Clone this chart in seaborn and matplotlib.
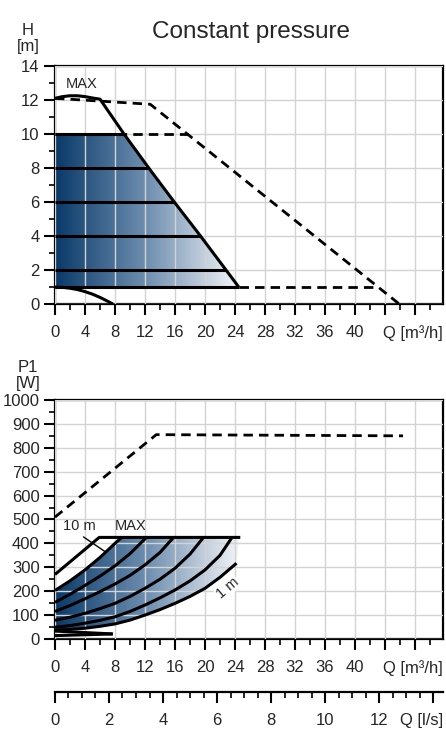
import numpy as np
import matplotlib
matplotlib.use("Agg")
import matplotlib.pyplot as plt
import seaborn as sns
from matplotlib.colors import LinearSegmentedColormap
from matplotlib.patches import Polygon
from matplotlib.ticker import MultipleLocator, FixedLocator, FixedFormatter

# ---- head chart, H [m] over Q [m3/h]
q_max_head = [0, 1, 2, 3, 4, 5, 6, 9.2, 12.5, 15.9, 19.4, 22.8, 24.5]
h_max_head = [12.1, 12.2, 12.25, 12.25, 12.2, 12.12, 12.05, 10, 8, 6, 4, 2, 1.0]
head_levels = [10, 8, 6, 4, 2, 1]
head_level_ends = [9.2, 12.5, 15.9, 19.4, 22.8, 24.5]
q_dash_head = [0, 12.7, 45.9]
h_dash_head = [12.1, 11.75, 0]
q_dash_10m = [0, 17.7]
h_dash_10m = [10, 10]
q_dash_1m = [24.5, 42.9]
h_dash_1m = [1, 1]
q_low_head = [0, 1, 2, 3, 4, 5, 6, 7, 7.7]
h_low_head = [1.0, 0.98, 0.93, 0.85, 0.73, 0.58, 0.39, 0.17, 0.0]

# ---- power chart, P1 [W] over Q [m3/h]
q_dash_p1 = [0, 13.5, 46.4]
p_dash_p1 = [510, 855, 850]
q_max_p1 = [0, 5.9, 24.7]
p_max_p1 = [270, 425, 425]
power_curves = {
    "10 m": ([0, 2, 4, 6, 8, 8.9], [203, 243, 289, 341, 400, 425]),
    "8 m": ([0, 2, 4, 6, 8, 10, 12.2], [153, 187, 224, 263, 306, 357, 425]),
    "6 m": ([0, 2, 4, 6, 8, 10, 12, 14, 15.8], [115, 140, 168, 198, 230, 266, 310, 362, 425]),
    "4 m": ([0, 2, 4, 6, 8, 10, 12, 14, 16, 18, 19.8],
            [78, 91, 107, 127, 149, 178, 212, 250, 296, 355, 425]),
    "2 m": ([0, 2, 4, 6, 8, 10, 12, 14, 16, 18, 20, 22, 23.6],
            [49, 56, 66, 78, 93, 115, 142, 172, 205, 243, 289, 350, 425]),
    "1 m": ([0, 2, 4, 6, 8, 10, 12, 14, 16, 18, 20, 22, 24.2],
            [37, 40, 45, 53, 63, 79, 100, 123, 149, 178, 212, 258, 317]),
}
q_low_p1_a = [0, 7.7]
p_low_p1_a = [33, 21]
q_low_p1_b = [0, 7.7]
p_low_p1_b = [14, 21]

q_ticks = [0, 4, 8, 12, 16, 20, 24, 28, 32, 36, 40, 44, 48]
q_tick_labels = ["0", "4", "8", "12", "16", "20", "24", "28", "32", "36", "40", "", ""]
ls_ticks = [0, 2, 4, 6, 8, 10, 12, 14]
ls_tick_labels = ["0", "2", "4", "6", "8", "10", "12", ""]

sns.set_style("white")
plt.rcParams["font.family"] = ["Liberation Sans", "DejaVu Sans"]

blue_cmap = LinearSegmentedColormap.from_list("pump", ["#0a3a6a", "#6f8fb0", "#f3f5f8"])

fig = plt.figure(figsize=(4.46, 7.31), dpi=100)
ax1 = fig.add_axes([0.1233, 0.5841, 0.870, 0.3256])
ax2 = fig.add_axes([0.1233, 0.1259, 0.870, 0.3269])
ax3 = fig.add_axes([0.1233, 0.0534, 0.870, 0.0005])

Q_RIGHT = 51.73


def line(ax, x, y, dashed=False):
    if dashed:
        sns.lineplot(x=x, y=y, ax=ax, color="black", lw=2.0, sort=False,
                     estimator=None, linestyle=(0, (3.4, 2.2)), zorder=4)
    else:
        sns.lineplot(x=x, y=y, ax=ax, color="black", lw=2.2, sort=False,
                     estimator=None, zorder=4, solid_capstyle="butt")


def gradient_fill(ax, xs, ys, x_end, y_top):
    poly = Polygon(np.column_stack([xs, ys]), closed=True, facecolor="none", edgecolor="none")
    ax.add_patch(poly)
    grad = np.linspace(0, 1, 256).reshape(1, -1)
    im = ax.imshow(grad, cmap=blue_cmap, aspect="auto", extent=[0, x_end, 0, y_top],
                   origin="lower", zorder=1, interpolation="bilinear")
    im.set_clip_path(poly)


def style_q_axis(ax, ymax, ymajor, yminor):
    ax.set_xlim(0, Q_RIGHT)
    ax.set_ylim(0, ymax)
    ax.xaxis.set_major_locator(FixedLocator(q_ticks))
    ax.xaxis.set_major_formatter(FixedFormatter(q_tick_labels))
    ax.xaxis.set_minor_locator(MultipleLocator(2))
    ax.yaxis.set_major_locator(MultipleLocator(ymajor))
    ax.yaxis.set_minor_locator(MultipleLocator(yminor))
    ax.grid(True, which="major", color="#d3d3d3", lw=1.0)
    ax.set_axisbelow(False)
    for s in ax.spines.values():
        s.set_visible(True)
        s.set_color("black")
        s.set_linewidth(1.6)
    ax.tick_params(which="major", direction="out", length=8, width=1.5, color="black",
                   labelsize=12, pad=3, bottom=True, left=True)
    ax.tick_params(which="minor", direction="out", length=4.5, width=1.2, color="black",
                   bottom=True, left=True)
    ax.tick_params(axis="x", which="major", pad=7)
    ax.set_xlabel("")
    ax.set_ylabel("")
    ax.annotate("Q [m³/h]", xy=(1, 0), xycoords="axes fraction", xytext=(0, -15),
                textcoords="offset points", ha="right", va="top", fontsize=12)


# ---- head chart
poly_x = [0] + head_level_ends + [0]
poly_y = [10] + head_levels + [1]
gradient_fill(ax1, poly_x, poly_y, 24.5, 14)
line(ax1, q_max_head, h_max_head)
for lvl, qend in zip(head_levels, head_level_ends):
    line(ax1, [0, qend], [lvl, lvl])
line(ax1, q_dash_head, h_dash_head, dashed=True)
line(ax1, q_dash_10m, h_dash_10m, dashed=True)
line(ax1, q_dash_1m, h_dash_1m, dashed=True)
line(ax1, q_low_head, h_low_head)
ax1.text(3.5, 12.55, "MAX", fontsize=10.5, ha="center", va="bottom")
style_q_axis(ax1, 14, 2, 1)

# ---- power chart
top_q, top_p = power_curves["10 m"]
bot_q, bot_p = power_curves["1 m"]
fill_x = list(top_q) + [24.6] + list(bot_q)[::-1]
fill_y = list(top_p) + [425] + list(bot_p)[::-1]
gradient_fill(ax2, fill_x, fill_y, 24.6, 1000)
line(ax2, q_dash_p1, p_dash_p1, dashed=True)
line(ax2, q_max_p1, p_max_p1)
for name, (qs, ps) in power_curves.items():
    line(ax2, qs, ps)
line(ax2, q_low_p1_a, p_low_p1_a)
line(ax2, q_low_p1_b, p_low_p1_b)
ax2.text(3.2, 445, "10 m", fontsize=10.5, ha="center", va="bottom")
ax2.text(10.1, 445, "MAX", fontsize=10.5, ha="center", va="bottom")
ax2.plot([3.8, 6.7], [427, 365], color="black", lw=1.0, zorder=4)
ax2.text(23.0, 214, "1 m", fontsize=10.5, ha="center", va="center", rotation=40,
         bbox=dict(facecolor="white", edgecolor="none", pad=0.5), zorder=5)
style_q_axis(ax2, 1000, 100, 50)

# ---- l/s scale
ax3.set_xlim(0, Q_RIGHT / 3.6)
ax3.set_ylim(0, 1)
ax3.set_yticks([])
for side in ["top", "left", "right"]:
    ax3.spines[side].set_visible(False)
ax3.spines["bottom"].set_linewidth(1.6)
ax3.spines["bottom"].set_color("black")
ax3.set_facecolor("none")
ax3.xaxis.set_major_locator(FixedLocator(ls_ticks))
ax3.xaxis.set_major_formatter(FixedFormatter(ls_tick_labels))
ax3.xaxis.set_minor_locator(MultipleLocator(0.5))
ax3.tick_params(which="major", direction="out", length=8, width=1.5, color="black",
                labelsize=12, pad=7, bottom=True)
ax3.tick_params(which="minor", direction="out", length=4.5, width=1.2, color="black", bottom=True)
ax3.annotate("Q [l/s]", xy=(1, 0), xycoords="axes fraction", xytext=(0, -15),
             textcoords="offset points", ha="right", va="top", fontsize=12)

fig.text(0.563, 0.948, "Constant pressure", fontsize=17.5, ha="center", va="baseline")
fig.text(0.063, 0.947, "H\n[m]", fontsize=12, ha="center", va="center", linespacing=1.1)
fig.text(0.063, 0.486, "P1\n[W]", fontsize=12, ha="center", va="center", linespacing=1.1)

fig.savefig("out.png", dpi=100)
